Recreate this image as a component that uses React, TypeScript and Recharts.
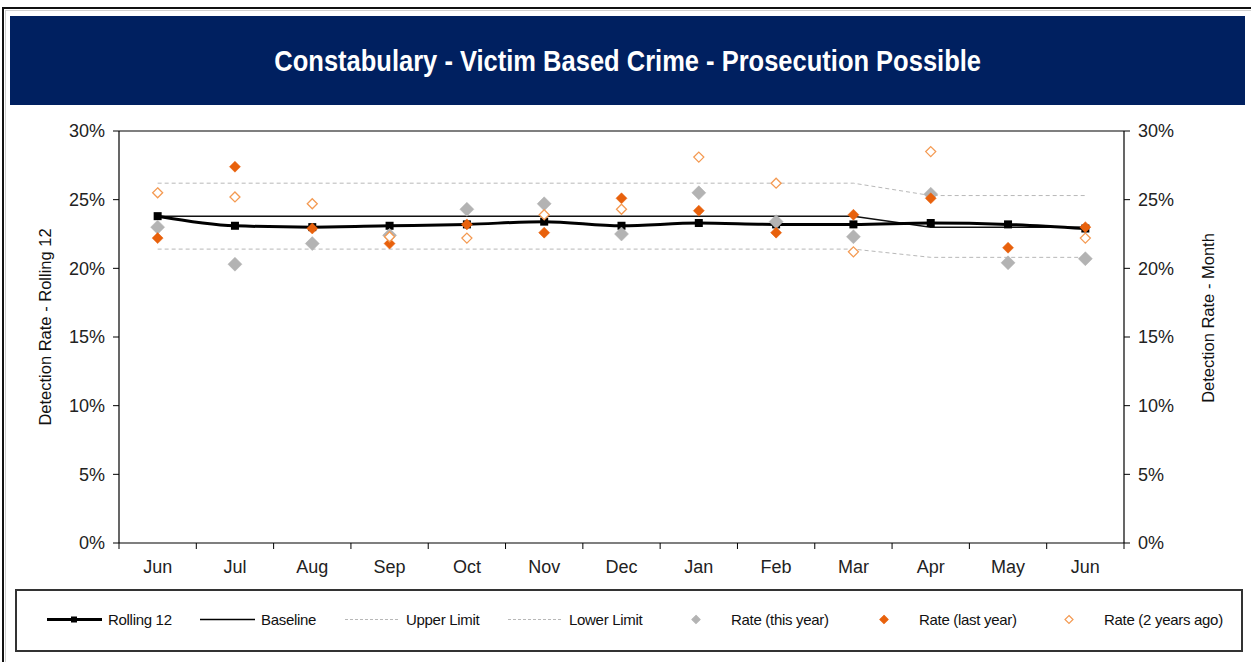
import React from "react";
import { ComposedChart, Line, XAxis, YAxis, ReferenceLine } from "recharts";

const months = ["Jun", "Jul", "Aug", "Sep", "Oct", "Nov", "Dec", "Jan", "Feb", "Mar", "Apr", "May", "Jun"];
const rolling12 = [23.8, 23.1, 23.0, 23.1, 23.2, 23.4, 23.1, 23.3, 23.2, 23.2, 23.3, 23.2, 22.9];
const baseline = [23.8, 23.8, 23.8, 23.8, 23.8, 23.8, 23.8, 23.8, 23.8, 23.8, 23.0, 23.0, 23.0];
const upperLimit = [26.2, 26.2, 26.2, 26.2, 26.2, 26.2, 26.2, 26.2, 26.2, 26.2, 25.3, 25.3, 25.3];
const lowerLimit = [21.4, 21.4, 21.4, 21.4, 21.4, 21.4, 21.4, 21.4, 21.4, 21.4, 20.8, 20.8, 20.8];
const rateThisYear = [23.0, 20.3, 21.8, 22.4, 24.3, 24.7, 22.5, 25.5, 23.4, 22.3, 25.4, 20.4, 20.7];
const rateLastYear = [22.2, 27.4, 22.9, 21.8, 23.2, 22.6, 25.1, 24.2, 22.6, 23.9, 25.1, 21.5, 23.0];
const rate2YearsAgo = [25.5, 25.2, 24.7, 22.3, 22.2, 23.9, 24.3, 28.1, 26.2, 21.2, 28.5, null, 22.2];
const yTicks = [0, 5, 10, 15, 20, 25, 30];

const data = months.map((m, i) => ({
  x: i + 0.5,
  month: m,
  rolling12: rolling12[i],
  baseline: baseline[i],
  upperLimit: upperLimit[i],
  lowerLimit: lowerLimit[i],
  rateThisYear: rateThisYear[i],
  rateLastYear: rateLastYear[i],
  rate2YearsAgo: rate2YearsAgo[i],
}));

// ticks at category boundaries (integers) and labels at centres (halves)
const xTicks: number[] = [];
for (let i = 0; i <= 26; i++) xTicks.push(i / 2);

const FONT = "'Liberation Sans Narrow', 'Arial Narrow', 'Liberation Sans', Arial, sans-serif";
const ORANGE = "#e8610c";
const LIGHT_ORANGE = "#f49a52";
const GRAY = "#b3b3b3";
const LIMIT = "#b8b8b8";

const XTick = (props: any) => {
  const { x, y, payload } = props;
  const v = payload.value;
  if (Number.isInteger(v)) {
    return <line x1={x} y1={y} x2={x} y2={y + 6} stroke="#000" strokeWidth={1} />;
  }
  return (
    <text x={x} y={y + 17} dy="0.71em" textAnchor="middle" fill="#222" fontSize={18} fontFamily={FONT}>
      {months[Math.floor(v)]}
    </text>
  );
};

const diamond = (size: number, fill: string, stroke: string, sw: number) => (props: any) => {
  const { cx, cy, index } = props;
  if (cy == null || isNaN(cy)) return <g key={`e-${index}`} />;
  const pts = `${cx},${cy - size} ${cx + size},${cy} ${cx},${cy + size} ${cx - size},${cy}`;
  return <polygon key={`d-${index}`} points={pts} fill={fill} stroke={stroke} strokeWidth={sw} />;
};

const squareDot = (props: any) => {
  const { cx, cy, index } = props;
  return <rect key={`s-${index}`} x={cx - 4} y={cy - 4} width={8} height={8} fill="#000" />;
};

const legendItems = [
  { label: "Rolling 12", kind: "rolling", left: 47 },
  { label: "Baseline", kind: "baseline", left: 200 },
  { label: "Upper Limit", kind: "dash", left: 345 },
  { label: "Lower Limit", kind: "dash", left: 508 },
  { label: "Rate (this year)", kind: "gray", left: 690 },
  { label: "Rate (last year)", kind: "orange", left: 878 },
  { label: "Rate (2 years ago)", kind: "hollow", left: 1063 },
];

const LegendIcon = ({ kind }: { kind: string }) => {
  if (kind === "rolling")
    return (
      <svg width={55} height={10}>
        <line x1={0} y1={5} x2={55} y2={5} stroke="#000" strokeWidth={3} />
        <rect x={24} y={2} width={6} height={6} fill="#000" />
      </svg>
    );
  if (kind === "baseline")
    return (
      <svg width={55} height={10}>
        <line x1={0} y1={5} x2={55} y2={5} stroke="#000" strokeWidth={1.5} />
      </svg>
    );
  if (kind === "dash")
    return (
      <svg width={55} height={10}>
        <line x1={0} y1={5} x2={55} y2={5} stroke={LIMIT} strokeWidth={1} strokeDasharray="3 2" />
      </svg>
    );
  const fill = kind === "gray" ? GRAY : kind === "orange" ? ORANGE : "#fff";
  const stroke = kind === "gray" ? GRAY : kind === "orange" ? ORANGE : LIGHT_ORANGE;
  return (
    <svg width={12} height={12}>
      <polygon points="6,2 10,6 6,10 2,6" fill={fill} stroke={stroke} strokeWidth={1.2} />
    </svg>
  );
};

const AxisTitle = (side: "left" | "right", text: string, shift: number) => (props: any) => {
  const { viewBox } = props;
  const cx = side === "left" ? viewBox.x + 6 : viewBox.x + viewBox.width - 6;
  const cy = viewBox.y + viewBox.height / 2 + shift;
  return (
    <text
      x={cx}
      y={cy}
      transform={`rotate(-90 ${cx} ${cy})`}
      textAnchor="middle"
      dominantBaseline="central"
      fontSize={16.5}
      fontFamily={FONT}
      fill="#111"
    >
      {text}
    </text>
  );
};

export default function App() {
  return (
    <div style={{ position: "absolute", left: 0, top: 0, width: 1251, height: 662, overflow: "hidden", background: "#fff" }}>
      <div style={{ position: "absolute", left: 2, top: 7, width: 1300, height: 700, border: "2px solid #111", boxSizing: "border-box" }} />
      <div style={{ position: "absolute", left: 5, top: 10, width: 1300, height: 700, border: "1px solid #d0d0d0", boxSizing: "border-box" }} />
      <div
        style={{
          position: "absolute",
          left: 10,
          top: 16,
          width: 1235,
          height: 89,
          background: "#002060",
          display: "flex",
          alignItems: "center",
          justifyContent: "center",
        }}
      >
        <span
          style={{
            color: "#fff",
            fontFamily: FONT,
            fontWeight: "bold",
            fontSize: 30,
            display: "inline-block",
            transform: "scaleX(0.85)",
            whiteSpace: "nowrap",
          }}
        >
          Constabulary - Victim Based Crime - Prosecution Possible
        </span>
      </div>

      <div style={{ position: "absolute", left: 0, top: 0 }}>
        <ComposedChart width={1251} height={662} data={data} margin={{ top: 131, right: 37, bottom: 79, left: 39 }}>
          <XAxis
            dataKey="x"
            type="number"
            domain={[0, 13]}
            ticks={xTicks}
            interval={0}
            tickLine={false}
            tickSize={0}
            tickMargin={0}
            tick={<XTick />}
            height={40}
            stroke="#000"
            axisLine={{ stroke: "#000", strokeWidth: 1.2 }}
          />
          <YAxis
            yAxisId="left"
            domain={[0, 30]}
            ticks={yTicks}
            interval={0}
            width={80}
            tickFormatter={(v) => `${v}%`}
            tickSize={6}
            tickMargin={8}
            stroke="#000"
            axisLine={{ stroke: "#000", strokeWidth: 1.2 }}
            tickLine={{ stroke: "#000" }}
            tick={{ fill: "#222", fontSize: 18, fontFamily: FONT }}
            label={{ content: AxisTitle("left", "Detection Rate - Rolling 12", -10) }}
          />
          <YAxis
            yAxisId="right"
            orientation="right"
            domain={[0, 30]}
            ticks={yTicks}
            interval={0}
            width={90}
            tickFormatter={(v) => `${v}%`}
            tickSize={6}
            tickMargin={8}
            stroke="#000"
            axisLine={{ stroke: "#000", strokeWidth: 1.2 }}
            tickLine={{ stroke: "#000" }}
            tick={{ fill: "#222", fontSize: 18, fontFamily: FONT }}
            label={{ content: AxisTitle("right", "Detection Rate - Month", -19) }}
          />
          <ReferenceLine yAxisId="left" y={30} stroke="#000" strokeWidth={1.2} />
          <Line yAxisId="left" dataKey="upperLimit" type="linear" stroke={LIMIT} strokeWidth={1} strokeDasharray="4 3" dot={false} activeDot={false} isAnimationActive={false} />
          <Line yAxisId="left" dataKey="lowerLimit" type="linear" stroke={LIMIT} strokeWidth={1} strokeDasharray="4 3" dot={false} activeDot={false} isAnimationActive={false} />
          <Line yAxisId="left" dataKey="baseline" type="linear" stroke="#111" strokeWidth={1.5} dot={false} activeDot={false} isAnimationActive={false} />
          <Line yAxisId="left" dataKey="rolling12" type="monotone" stroke="#000" strokeWidth={3} dot={squareDot} activeDot={false} isAnimationActive={false} />
          <Line yAxisId="right" dataKey="rateThisYear" stroke="none" dot={diamond(7, GRAY, GRAY, 0.5)} activeDot={false} isAnimationActive={false} />
          <Line yAxisId="right" dataKey="rateLastYear" stroke="none" dot={diamond(5.5, ORANGE, ORANGE, 0.5)} activeDot={false} isAnimationActive={false} />
          <Line yAxisId="right" dataKey="rate2YearsAgo" stroke="none" dot={diamond(5, "#fff", LIGHT_ORANGE, 1.3)} activeDot={false} isAnimationActive={false} />
        </ComposedChart>
      </div>

      <div style={{ position: "absolute", left: 15, top: 589, width: 1228, height: 63, border: "2px solid #333", boxSizing: "border-box" }} />
      {legendItems.map((it) => (
        <div
          key={it.label}
          style={{
            position: "absolute",
            left: it.left,
            top: 619,
            transform: "translateY(-50%)",
            display: "flex",
            alignItems: "center",
            gap: it.kind === "rolling" || it.kind === "baseline" || it.kind === "dash" ? 6 : 29,
            fontFamily: FONT,
            fontSize: 15,
            letterSpacing: -0.3,
            color: "#111",
            whiteSpace: "nowrap",
          }}
        >
          <LegendIcon kind={it.kind} />
          <span>{it.label}</span>
        </div>
      ))}
    </div>
  );
}
